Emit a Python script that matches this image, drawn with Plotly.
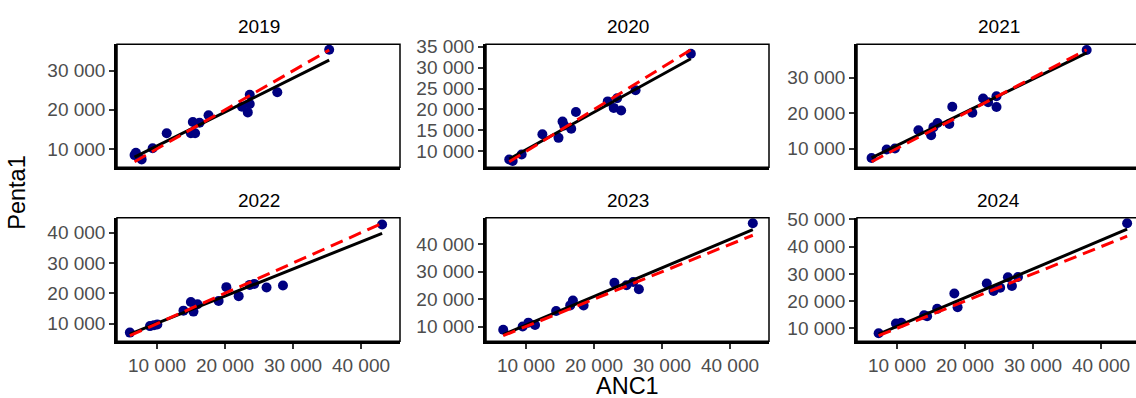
import numpy as np
import plotly.graph_objects as go

years = ["2019", "2020", "2021", "2022", "2023", "2024"]

anc_2019 = [6900, 6700, 7740, 9360, 11430, 15270, 16260, 14980, 15600, 17580, 22500, 23640, 23640, 23350, 27690, 35320]
penta_2019 = [9000, 8400, 7300, 10170, 14000, 16880, 16700, 14000, 14000, 18600, 20800, 23830, 21470, 19340, 24500, 35380]

anc_2020 = [7530, 8040, 9360, 12410, 14780, 15370, 15620, 16650, 17340, 22020, 22900, 23400, 23990, 26110, 34240]
penta_2020 = [8080, 7690, 9240, 14080, 13230, 17150, 16160, 15380, 19390, 21930, 20380, 22690, 19760, 24610, 33310]

anc_2021 = [6260, 8480, 9700, 13150, 15020, 15360, 15960, 17690, 18130, 21080, 22660, 23400, 24630, 24630, 37890]
penta_2021 = [7300, 9730, 10000, 15140, 13780, 16030, 17200, 16940, 21810, 20090, 24140, 23060, 24780, 21710, 37840]

anc_2022 = [6010, 8970, 9560, 10050, 13890, 14980, 15360, 15960, 19060, 20200, 22010, 23640, 24300, 26110, 28520, 43100]
penta_2022 = [7030, 9170, 9490, 9680, 14280, 17150, 13960, 16380, 17470, 22030, 19060, 22770, 23100, 21940, 22580, 42680]

anc_2023 = [6650, 9510, 10350, 11330, 14430, 16500, 16900, 18470, 23000, 24780, 25770, 26600, 43350]
penta_2023 = [8830, 10000, 11420, 10590, 15690, 17720, 19500, 17720, 26010, 25050, 26260, 23630, 47720]

anc_2024 = [7300, 9850, 10640, 13990, 14430, 15910, 18430, 18910, 23200, 24190, 25170, 26310, 26900, 27790, 43840]
penta_2024 = [8210, 11790, 12040, 14800, 14440, 17160, 22790, 17770, 26480, 23750, 24940, 28770, 25540, 28880, 48580]

anc = [anc_2019, anc_2020, anc_2021, anc_2022, anc_2023, anc_2024]
penta = [penta_2019, penta_2020, penta_2021, penta_2022, penta_2023, penta_2024]

y_dtick = [10000, 5000, 10000, 10000, 10000, 10000]
x_tickvals = [10000, 20000, 30000, 40000]

x_title = "ANC1"
y_title = "Penta1"

# ---------------- layout geometry (pixels) ----------------
W, H = 1136, 398
col_px = [(117, 400), (486, 769), (857, 1140)]
row_px = [(36, 162), (213.5, 340)]
FONT = "Liberation Sans, Arial, sans-serif"
TICK_COL = "#4D4D4D"
TICK_SIZE = 19

all_x = np.concatenate([np.array(a, float) for a in anc])
xmin, xmax = all_x.min(), all_x.max()
xpad = 0.05 * (xmax - xmin)
xr = [xmin - xpad, xmax + xpad]

fig = go.Figure()
layout = dict(
    width=W, height=H, margin=dict(l=0, r=0, t=0, b=0),
    paper_bgcolor="white", plot_bgcolor="white",
    showlegend=False, separators=". ",
    font=dict(family=FONT, color=TICK_COL),
)
annotations = []
shapes = []

for i, yr in enumerate(years):
    r, c = divmod(i, 3)
    n = i + 1
    xa = "x" if n == 1 else f"x{n}"
    ya = "y" if n == 1 else f"y{n}"
    xs = np.array(anc[i], float)
    ys = np.array(penta[i], float)

    # points
    fig.add_trace(go.Scatter(x=xs, y=ys, mode="markers", xaxis=xa, yaxis=ya,
                             marker=dict(color="#000080", size=10), cliponaxis=False))
    # linear fit
    b1, b0 = np.polyfit(xs, ys, 1)
    fx = np.array([xs.min(), xs.max()])
    fy = b0 + b1 * fx
    fig.add_trace(go.Scatter(x=fx, y=fy, mode="lines", xaxis=xa, yaxis=ya,
                             line=dict(color="black", width=3)))
    # identity line
    fig.add_trace(go.Scatter(x=fx, y=fx, mode="lines", xaxis=xa, yaxis=ya,
                             line=dict(color="#FF0000", width=3, dash="13px,7px")))

    yvals = np.concatenate([ys, fy, fx])
    ylo, yhi = yvals.min(), yvals.max()
    ypad = 0.05 * (yhi - ylo)
    yrange = [ylo - ypad, yhi + ypad]

    x0p, x1p = col_px[c]
    y0p, y1p = row_px[r]
    xrange = list(xr)
    dom_x1 = x1p
    if x1p > W:
        frac = (W - x0p) / (x1p - x0p)
        xrange = [xr[0], xr[0] + (xr[1] - xr[0]) * frac]
        dom_x1 = W
    xdom = [x0p / W, dom_x1 / W]
    ydom = [1 - y1p / H, 1 - y0p / H]

    bottom = (r == 1)
    layout["xaxis" if n == 1 else f"xaxis{n}"] = dict(
        domain=xdom, anchor=ya, range=xrange, showgrid=False, zeroline=False,
        showline=True, linecolor="black", linewidth=2.5,
        ticks="outside" if bottom else "", ticklen=5, tickwidth=1.5, tickcolor="#333333",
        tickvals=x_tickvals, tickformat=",d", showticklabels=bottom,
        tickfont=dict(family=FONT, size=TICK_SIZE, color=TICK_COL),
    )
    layout["yaxis" if n == 1 else f"yaxis{n}"] = dict(
        domain=ydom, anchor=xa, range=yrange, showgrid=False, zeroline=False,
        showline=True, linecolor="black", linewidth=2.5,
        ticks="outside", ticklen=5, tickwidth=1.5, tickcolor="#333333",
        tick0=0, dtick=y_dtick[i], tickformat=",d",
        tickfont=dict(family=FONT, size=TICK_SIZE, color=TICK_COL),
    )
    shapes.append(dict(type="rect", xref=f"{xa} domain", yref=f"{ya} domain",
                       x0=0, x1=1 if x1p <= W else 1.02, y0=0, y1=1,
                       line=dict(color="black", width=1.5), layer="above"))
    annotations.append(dict(text=yr, x=((x0p + x1p) / 2) / W, y=1 - (y0p - 18) / H,
                            xref="paper", yref="paper", xanchor="center", yanchor="middle",
                            showarrow=False, font=dict(family=FONT, size=19, color="black")))

annotations.append(dict(text=x_title, x=627 / W, y=1 - 386 / H, xref="paper", yref="paper",
                        xanchor="center", yanchor="middle", showarrow=False,
                        font=dict(family=FONT, size=23.5, color="black")))
annotations.append(dict(text=y_title, x=17 / W, y=1 - 188 / H, xref="paper", yref="paper",
                        xanchor="center", yanchor="middle", showarrow=False, textangle=-90,
                        font=dict(family=FONT, size=23.5, color="black")))

layout["annotations"] = annotations
layout["shapes"] = shapes
fig.update_layout(**layout)
fig.write_html("out.html")
